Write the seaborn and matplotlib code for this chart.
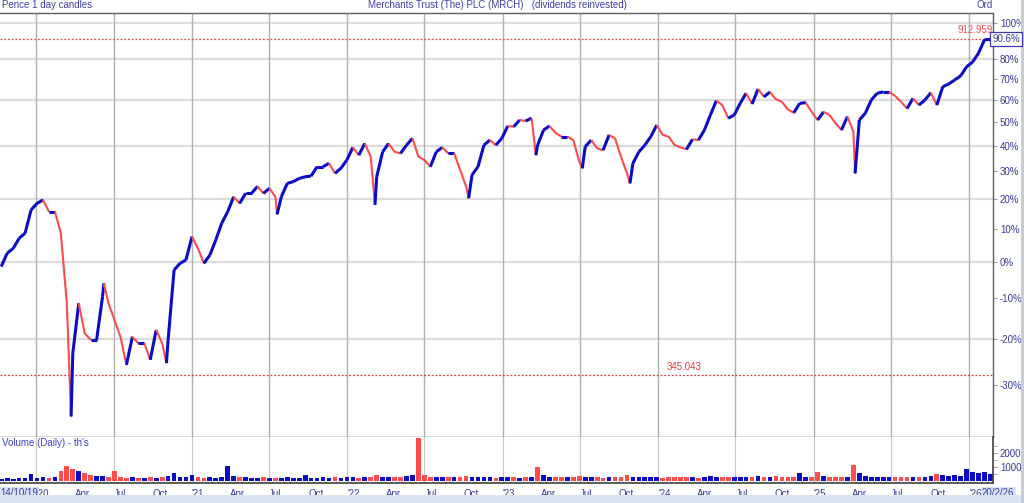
import matplotlib
matplotlib.use('Agg')
from matplotlib import pyplot as plt
from matplotlib.collections import LineCollection
from matplotlib.patches import Rectangle
import matplotlib.dates as mdates
import seaborn as sns
import numpy as np
import pandas as pd

# fortnightly closes, % change vs start, last one is 20/2/26
pct_change = [
    -1.3, 2.6, 4.0, 7.1, 8.7, 16.3, 18.5, 19.7, 15.7, 15.7,
    8.7, -11.3, -23.3, -11.3, -18.7, -20.2, -20.2, -9.5, -11.3, -15.5,
    -19.5, -25.8, -19.5, -21.0, -21.0, -24.7, -17.9, -21.0, -20.2, -2.3,
    -0.4, 0.6, 7.6, 4.0, -0.4, 2.0, 6.6, 11.9, 15.7, 20.8,
    18.5, 22.0, 22.0, 24.5, 22.0, 23.8, 20.8, 20.8, 25.6, 26.2,
    27.4, 28.0, 28.3, 31.8, 31.8, 33.1, 29.3, 31.2, 34.4, 39.4,
    36.3, 41.0, 35.7, 28.0, 37.6, 41.0, 37.6, 37.0, 40.3, 43.1,
    35.7, 34.4, 31.8, 37.6, 39.4, 37.0, 37.0, 30.6, 24.5, 28.7,
    31.8, 40.3, 42.4, 40.3, 43.1, 48.3, 48.0, 50.9, 50.5, 51.7,
    40.3, 46.6, 48.3, 45.4, 43.8, 43.8, 42.4, 33.8, 39.7, 42.4,
    39.0, 38.3, 44.5, 43.1, 35.7, 29.3, 33.1, 37.6, 40.3, 43.8,
    48.7, 44.5, 43.8, 40.3, 39.4, 38.6, 42.7, 42.4, 46.6, 53.1,
    59.6, 57.6, 51.7, 53.1, 58.4, 63.1, 58.1, 65.1, 61.4, 63.7,
    60.2, 59.1, 55.6, 54.1, 58.4, 58.7, 54.5, 50.9, 54.5, 53.1,
    49.5, 46.6, 52.4, 45.9, 50.9, 53.9, 59.9, 63.1, 63.7, 63.7,
    61.8, 59.1, 56.0, 60.7, 57.6, 59.9, 63.3, 57.6, 66.2, 67.5,
    69.5, 71.5, 76.1, 78.5, 83.2, 90.5, 90.6,
]

# daily volume level in each fortnight (thousands)
volume = [
    180, 220, 160, 200, 230, 480, 200, 260, 220, 300,
    700, 1100, 850, 750, 550, 420, 380, 330, 300, 700,
    280, 240, 260, 230, 250, 270, 240, 300, 350, 550,
    300, 280, 450, 260, 240, 300, 250, 280, 1100, 350,
    300, 260, 240, 230, 300, 250, 220, 240, 260, 230,
    250, 400, 240, 220, 260, 250, 280, 250, 300, 260,
    240, 280, 300, 450, 300, 280, 260, 300, 350, 400,
    3050, 400, 300, 280, 260, 300, 280, 300, 350, 320,
    280, 260, 300, 250, 280, 260, 300, 250, 280, 300,
    1000, 400, 320, 300, 280, 260, 300, 350, 280, 260,
    300, 250, 280, 260, 300, 400, 320, 280, 300, 260,
    280, 250, 300, 280, 300, 260, 280, 250, 300, 350,
    320, 300, 280, 260, 300, 280, 320, 350, 300, 280,
    330, 300, 260, 280, 550, 300, 280, 650, 350, 320,
    300, 280, 300, 1170, 550, 350, 300, 280, 320, 300,
    260, 280, 300, 320, 280, 300, 350, 500, 420, 380,
    400, 350, 860, 620, 600, 650, 500,
]

# intraday extremes that the fortnightly closes miss
spike_dates = ['2020-03-23', '2020-06-08', '2020-11-02', '2021-07-20', '2022-03-07',
               '2022-10-13', '2023-03-20', '2023-07-07', '2023-10-27', '2025-04-08']
spike_pct = [-36.1, -6.0, -25.4, 14.8, 18.0, 20.3, 36.3, 31.2, 25.6, 29.3]

last_price = 912.959
last_pct = 90.6
marker_price = 345.043

pct_ticks = [100, 80, 70, 60, 50, 40, 30, 20, 10, 0, -10, -20, -30]
grid_pcts = [100, 80, 60, 40, 20, 0, -20]

dates = pd.date_range(end='2026-02-20', periods=len(pct_change), freq='14D')
series = pd.concat([pd.Series(pct_change, index=dates),
                    pd.Series(spike_pct, index=pd.to_datetime(spike_dates))]).sort_index()
ratio = 1 + series.values / 100
base = last_price / (1 + last_pct / 100)

sns.set_style('white')
plt.rcParams['font.family'] = ['Liberation Sans', 'DejaVu Sans']

BLUE = '#0c0cc4'
RED = '#ff4c4c'
TXT = '#3a3a9e'

fig = plt.figure(figsize=(10.24, 5.03), dpi=100)
W, H = 1024, 503
ax = fig.add_axes([0, 1 - 437 / H, 993 / W, (437 - 13) / H])
axv = fig.add_axes([0, 1 - 483 / H, 993 / W, (483 - 437) / H], sharex=ax)

x0, x1 = pd.Timestamp('2019-10-08'), pd.Timestamp('2026-02-26')
ax.set_xlim(x0, x1)

# grid
for p in grid_pcts:
    ax.axhline(1 + p / 100, color='#dcdcdc', lw=1.6, zorder=0)
halfyears = pd.date_range('2020-01-01', '2026-01-01', freq='6MS')
for d in halfyears:
    ax.axvline(d, color='#b0b0b0', lw=1.0, zorder=0)
    axv.axvline(d, color='#c8c8c8', lw=0.8, zorder=0)

# price levels
ax.axhline(last_price / base, color='#f04848', lw=0.9, ls=(0, (1.5, 1.5)), zorder=1)
ax.axhline(marker_price / base, color='#e03838', lw=0.9, ls=(0, (1.5, 1.5)), zorder=1)

# price path, blue when rising, red when falling
sns.lineplot(x=series.index, y=ratio, ax=ax, color=BLUE, lw=0.6, zorder=2)
xs = mdates.date2num(series.index)
segs = [[(xs[i], ratio[i]), (xs[i + 1], ratio[i + 1])] for i in range(len(xs) - 1)]
up = np.diff(ratio) >= 0
lc = LineCollection(segs, colors=[BLUE if u else RED for u in up],
                    linewidths=[2.2 if u else 1.5 for u in up], zorder=3)
ax.add_collection(lc)

ax.set_yscale('log')
ax.set_ylim(0.602, 2.058)
ax.yaxis.tick_right()
ax.set_yticks([1 + p / 100 for p in pct_ticks])
ax.set_yticklabels([f'{p}%' for p in pct_ticks])
ax.yaxis.set_minor_locator(matplotlib.ticker.NullLocator())
ax.tick_params(axis='y', length=3, color='#a0a0a0', pad=2, labelsize=7, labelcolor=TXT)
ax.tick_params(axis='x', length=0, labelbottom=False)
ax.set_xlabel('')
ax.set_ylabel('')
for s in ['top', 'right', 'bottom']:
    ax.spines[s].set_color('#606060')
    ax.spines[s].set_linewidth(1.0)
ax.spines['left'].set_visible(False)

ax.text(1.0, last_price / base * 1.012, f'{last_price:.3f}', transform=ax.get_yaxis_transform(),
        ha='right', va='bottom', fontsize=7, color='#f05050')
ax.text(pd.Timestamp('2024-01-22'), marker_price / base * 1.008, f'{marker_price:.3f}',
        ha='left', va='bottom', fontsize=7, color='#e03838')

# volume
vcol = [BLUE] + [BLUE if b >= a else RED for a, b in zip(pct_change[:-1], pct_change[1:])]
axv.bar(dates, volume, width=11, color=vcol, linewidth=0, zorder=2)
axv.set_ylim(-140, 3140)
axv.yaxis.tick_right()
axv.set_yticks([1000, 2000])
axv.set_yticklabels(['1000', '2000'])
axv.set_yticks([500, 1500, 2500], minor=True)
axv.tick_params(axis='y', which='both', length=3, color='#a0a0a0', pad=2, labelsize=7,
                labelcolor=TXT)
quarters = pd.date_range('2020-01-01', '2026-01-01', freq='QS')
qlabels = [f"'{d.year % 100:02d}" if d.month == 1 else d.strftime('%b') for d in quarters]
axv.set_xticks(quarters)
axv.set_xticklabels(qlabels, ha='left')
axv.tick_params(axis='x', length=0, pad=4, labelsize=7, labelcolor=TXT)
axv.set_xlabel('')
for s in ['right', 'bottom']:
    axv.spines[s].set_color('#404040')
    axv.spines[s].set_linewidth(1.2)
axv.spines['top'].set_visible(False)
axv.spines['left'].set_visible(False)
axv.text(0.002, 0.97, "Volume (Daily) - th's", transform=axv.transAxes, ha='left', va='top',
         fontsize=7, color='#4040c8')
axv.text(0.0, -0.1, '14/10/19', transform=axv.transAxes, ha='left', va='top', fontsize=7,
         color=TXT, bbox=dict(fc='#d4e4f4', ec='none', pad=0.8))
axv.text(982 / 993, -0.1, '20/2/26', transform=axv.transAxes, ha='left', va='top', fontsize=7,
         color=TXT, bbox=dict(fc='#d4e4f4', ec='none', pad=0.8))

# header texts
fig.text(0.002, 1 - 5 / H, 'Pence 1 day candles', ha='left', va='center', fontsize=7, color='#4040a8')
fig.text(497 / W, 1 - 5 / H, 'Merchants Trust (The) PLC (MRCH)   (dividends reinvested)',
         ha='center', va='center', fontsize=7, color='#4040a8')
fig.text(993 / W, 1 - 5 / H, 'Ord', ha='right', va='center', fontsize=7, color='#4040a8')
fig.text(1006 / W, 1 - 39 / H, f'{last_pct}%', ha='center', va='center', fontsize=7, color=TXT,
         bbox=dict(fc='white', ec='#3a3ab0', lw=0.9, pad=1.2))

# window frame
fig.add_artist(Rectangle((0, 0), 1, 8 / H, transform=fig.transFigure, fc='#d8e4f0', ec='none'))
fig.add_artist(Rectangle((1021 / W, 0), 3 / W, 1, transform=fig.transFigure, fc='#c4ccd6', ec='none'))

fig.savefig('out.png', dpi=100)
